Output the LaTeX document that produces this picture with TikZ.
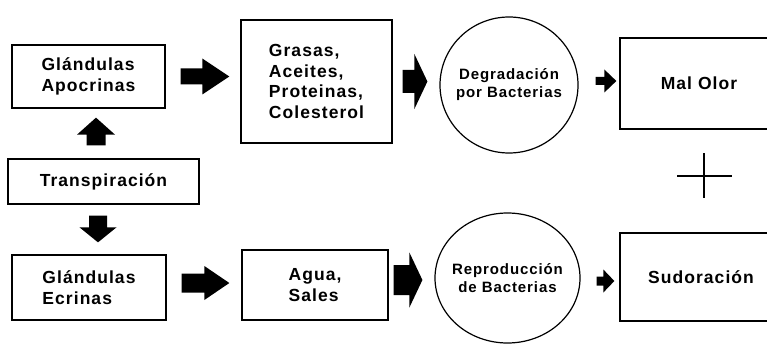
\documentclass[tikz,border=0pt]{standalone}
\usepackage{fontspec}
\newfontfamily\labelfont{Liberation Sans}[LetterSpace=6]
\usetikzlibrary{shapes.geometric,calc}
\newcommand\fatarrow[7]{%
    \coordinate (fa-a) at (#1);
    \coordinate (fa-b) at (#2);
    \coordinate (fa-s) at ($(fa-a)!#3!(fa-b)$);
    \coordinate (fa-e) at ($(fa-b)!#4!(fa-a)$);
    \coordinate (fa-h) at ($(fa-e)!#6!(fa-s)$);
    \fill ($(fa-s)!#5*0.5!90:(fa-e)$) -- ($(fa-h)!#5*0.5!-90:(fa-s)$) -- ($(fa-h)!#7*0.5!-90:(fa-s)$) -- (fa-e)
        -- ($(fa-h)!#7*0.5!90:(fa-s)$) -- ($(fa-h)!#5*0.5!90:(fa-s)$) -- ($(fa-s)!#5*0.5!-90:(fa-e)$) -- cycle;}
\begin{document}
\begin{tikzpicture}[x=1pt, y=-1pt,
        box/.style={draw, line width=1.3pt, inner sep=0pt, align=left, font=\labelfont\bfseries\fontsize{17.5}{20.5}\selectfont},
        blob/.style={draw, ellipse, line width=1.2pt, inner xsep=-12pt, inner ysep=0pt, align=center, font=\labelfont\bfseries\fontsize{15}{18}\selectfont}]
    \useasboundingbox (0,0) rectangle (767,350);
    \node[box, minimum width=153pt, minimum height=63pt] (apocrinas) at (88.5,76.5) {Glándulas\\Apocrinas};
    \node[box, minimum width=151pt, minimum height=123pt] (grasas) at (316.5,81.5) {Grasas,\\Aceites,\\Proteinas,\\Colesterol};
    \node[box, minimum width=191pt, minimum height=45pt] (transpiracion) at (103.5,181.5) {Transpiración};
    \node[box, minimum width=154pt, minimum height=65pt] (ecrinas) at (89,287.5) {Glándulas\\Ecrinas};
    \node[box, minimum width=146pt, minimum height=70pt] (agua) at (315,285) {Agua,\\Sales};
    \node[blob, minimum width=138pt, minimum height=136pt] (degradacion) at (509,85) {Degradación\\por Bacterias};
    \node[blob, minimum width=145pt, minimum height=130pt] (reproduccion) at (507.5,278) {Reproducción\\de Bacterias};
    \node[box, minimum width=158pt, minimum height=91pt] (malolor) at (699,83.5) {Mal Olor};
    \node[box, minimum width=162pt, minimum height=88pt] (sudoracion) at (701,277) {Sudoración};
    \coordinate (plus) at (704,176);

    \fatarrow{[xshift=-7.5pt]transpiracion.north}{[xshift=-7.5pt]transpiracion.north |- apocrinas.south}{13pt}{9pt}{19pt}{17pt}{38pt}
    \fatarrow{[xshift=-5.5pt]transpiracion.south}{[xshift=-5.5pt]transpiracion.south |- ecrinas.north}{11pt}{12pt}{18pt}{15pt}{37pt}
    \fatarrow{apocrinas.east}{apocrinas.east -| grasas.west}{15pt}{11pt}{16pt}{27pt}{36pt}
    \fatarrow{[yshift=4.5pt]ecrinas.east}{[yshift=4.5pt]ecrinas.east -| agua.west}{15pt}{12pt}{19pt}{25pt}{34pt}
    \fatarrow{grasas.east}{grasas.east -| degradacion.west}{10pt}{12pt}{23pt}{13pt}{55pt}
    \fatarrow{[yshift=5pt]agua.east}{[yshift=5pt]agua.east -| reproduccion.west}{5pt}{12pt}{30pt}{13pt}{55pt}
    \fatarrow{[yshift=4pt]degradacion.east}{[yshift=4pt]degradacion.east -| malolor.west}{17pt}{3pt}{8pt}{12pt}{23pt}
    \fatarrow{[yshift=-3pt]reproduccion.east}{[yshift=-3pt]reproduccion.east -| sudoracion.west}{16pt}{5pt}{9pt}{11pt}{23pt}

    \draw[line width=2pt] (plus) +(-27,0) -- +(28,0) +(0,-23) -- +(0,22);
\end{tikzpicture}
\end{document}
